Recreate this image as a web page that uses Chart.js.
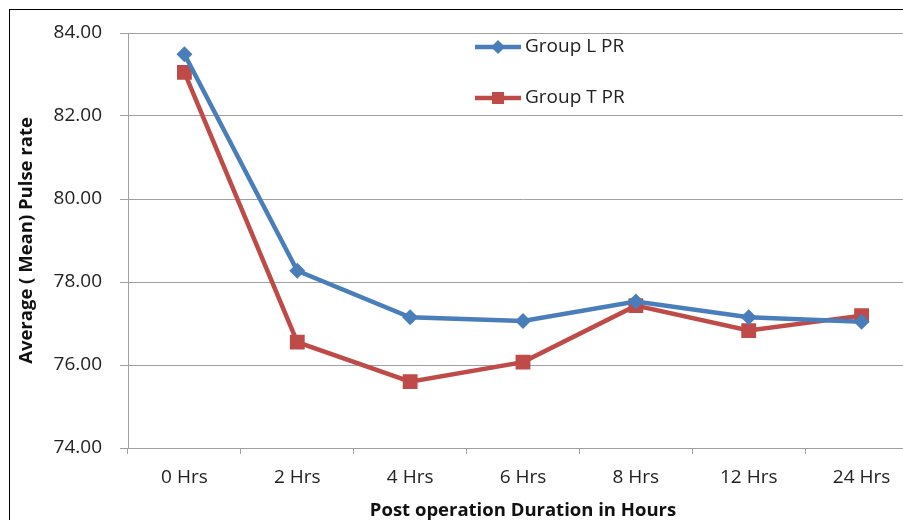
<!DOCTYPE html>
<html>
<head>
<meta charset="utf-8">
<script src="https://cdn.jsdelivr.net/npm/chart.js"></script>
<style>
  html, body { margin: 0; padding: 0; background: #fff; }
  #wrap { width: 903px; height: 520px; overflow: hidden; position: relative; }
  #box { width: 930px; height: 520px; }
</style>
</head>
<body>
<div id="wrap"><div id="box"><canvas id="chart-pr"></canvas></div></div>
<script>
const labels = ["0 Hrs", "2 Hrs", "4 Hrs", "6 Hrs", "8 Hrs", "12 Hrs", "24 Hrs"];
const groupL = [83.49, 78.27, 77.15, 77.06, 77.53, 77.15, 77.04];
const groupT = [83.05, 76.55, 75.60, 76.07, 77.43, 76.83, 77.19];
const yTicks = [74, 76, 78, 80, 82, 84];

const FONT = "'Open Sans', 'Noto Sans', sans-serif";
const BLUE = "#4a7ebb";
const RED = "#be4b48";
const GRID = "#a0a0a0";

// marco negro y leyenda dentro del área
const frame = {
  id: "frame",
  afterDraw(chart) {
    const ctx = chart.ctx;
    ctx.save();
    ctx.strokeStyle = "#000";
    ctx.lineWidth = 1;
    ctx.strokeRect(9.5, 9.5, 2000, 2000);

    const items = [
      { ds: chart.data.datasets[0], y: 47 },
      { ds: chart.data.datasets[1], y: 98 },
    ];
    items.forEach(({ ds, y }) => {
      ctx.strokeStyle = ds.borderColor;
      ctx.lineWidth = 4.5;
      ctx.beginPath();
      ctx.moveTo(475, y);
      ctx.lineTo(521, y);
      ctx.stroke();
      ctx.fillStyle = ds.backgroundColor;
      ctx.beginPath();
      if (ds.pointStyle === "rectRot") {
        ctx.moveTo(498, y - 7);
        ctx.lineTo(505, y);
        ctx.lineTo(498, y + 7);
        ctx.lineTo(491, y);
        ctx.closePath();
      } else {
        ctx.rect(492, y - 6, 12, 12);
      }
      ctx.fill();
      ctx.fillStyle = "#222";
      ctx.font = "19px " + FONT;
      ctx.textAlign = "left";
      ctx.textBaseline = "middle";
      ctx.fillText(ds.label, 525, y);
    });
    ctx.restore();
  },
};

const canvas = document.getElementById("chart-pr");
new Chart(canvas.getContext("2d"), {
  type: "line",
  data: {
    labels: labels,
    datasets: [
      {
        label: "Group L PR",
        data: groupL,
        borderColor: BLUE,
        backgroundColor: BLUE,
        borderWidth: 4.5,
        pointStyle: "rectRot",
        pointRadius: 8,
        pointBorderWidth: 0,
        tension: 0,
      },
      {
        label: "Group T PR",
        data: groupT,
        borderColor: RED,
        backgroundColor: RED,
        borderWidth: 4.5,
        pointStyle: "rect",
        pointRadius: 10.5,
        pointBorderWidth: 0,
        tension: 0,
      },
    ],
  },
  options: {
    responsive: true,
    maintainAspectRatio: false,
    animation: false,
    events: [],
    layout: { padding: { top: 33, right: 12, bottom: 0, left: 0 } },
    plugins: { legend: { display: false }, tooltip: { enabled: false } },
    scales: {
      x: {
        offset: true,
        grid: { offset: true, drawOnChartArea: false, color: GRID, tickLength: 6, tickColor: GRID },
        border: { color: GRID },
        ticks: { color: "#222", font: { family: FONT, size: 19 }, padding: 12, maxRotation: 0 },
        title: {
          display: true,
          text: "Post operation Duration in Hours",
          color: "#111",
          font: { family: FONT, size: 18.5, weight: "bold", lineHeight: 1 },
          padding: { top: 0, bottom: 0 },
        },
        afterFit(scale) { scale.height = 72; },
      },
      y: {
        min: 74,
        max: 84,
        afterBuildTicks(scale) { scale.ticks = yTicks.map(v => ({ value: v })); },
        grid: { color: GRID, tickLength: 8, tickColor: GRID },
        border: { color: GRID },
        ticks: {
          color: "#222",
          font: { family: FONT, size: 19 },
          padding: 18,
          callback: v => v.toFixed(2),
        },
        title: {
          display: true,
          text: "Average ( Mean) Pulse rate",
          color: "#111",
          font: { family: FONT, size: 18.5, weight: "bold", lineHeight: 1 },
          padding: { top: 17, bottom: 0 },
        },
        afterFit(scale) { scale.width = 128; },
      },
    },
  },
  plugins: [frame],
});
</script>
</body>
</html>
